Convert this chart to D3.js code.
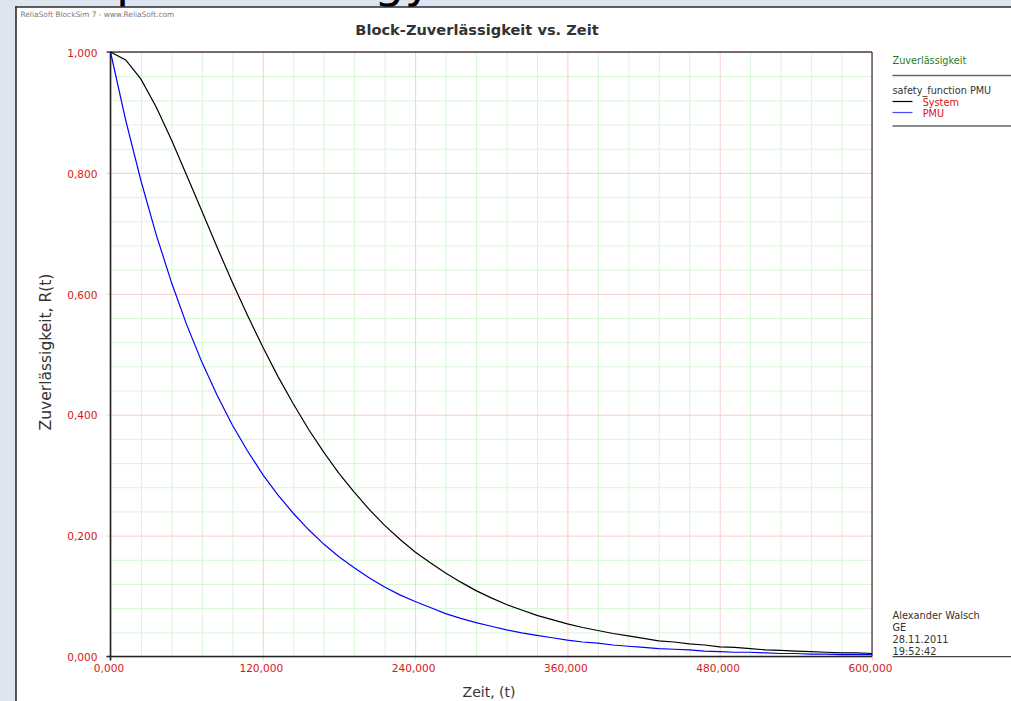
<!DOCTYPE html>
<html>
<head>
<meta charset="utf-8">
<script src="https://cdn.jsdelivr.net/npm/d3@7"></script>
<style>
  html, body { margin: 0; padding: 0; background: #dde5f0; }
  svg { display: block; font-family: "DejaVu Sans", sans-serif; }
</style>
</head>
<body>
<svg id="chart" width="1011" height="701"></svg>
<script>
// ---- data ----
const timeValues = [0,12,24,36,48,60,72,84,96,108,120,132,144,156,168,180,192,204,216,228,240,252,264,276,288,300,312,324,336,348,360,372,384,396,408,420,432,444,456,468,480,492,504,516,528,540,552,564,576,588,600];
const systemValues = [1.000,0.987,0.955,0.909,0.855,0.796,0.737,0.677,0.619,0.564,0.512,0.463,0.418,0.376,0.338,0.303,0.272,0.243,0.217,0.194,0.173,0.155,0.138,0.123,0.109,0.097,0.086,0.077,0.068,0.061,0.054,0.048,0.043,0.038,0.034,0.030,0.026,0.024,0.021,0.019,0.016,0.015,0.013,0.011,0.010,0.009,0.008,0.007,0.006,0.006,0.005];
const pmuValues = [1.000,0.887,0.787,0.698,0.619,0.549,0.487,0.432,0.383,0.340,0.301,0.267,0.237,0.210,0.186,0.165,0.147,0.130,0.115,0.102,0.091,0.081,0.071,0.063,0.056,0.050,0.044,0.039,0.035,0.031,0.027,0.024,0.022,0.019,0.017,0.015,0.013,0.012,0.011,0.009,0.008,0.007,0.007,0.006,0.005,0.005,0.004,0.004,0.003,0.003,0.003];
const xMajorTicks = [0,120,240,360,480,600];
const xMinorTicks = [24,48,72,96,144,168,192,216,264,288,312,336,384,408,432,456,504,528,552,576];
const yMajorTicks = [0,0.2,0.4,0.6,0.8,1.0];
const yMinorTicks = [0.04,0.08,0.12,0.16,0.24,0.28,0.32,0.36,0.44,0.48,0.52,0.56,0.64,0.68,0.72,0.76,0.84,0.88,0.92,0.96];
const seriesNames = ["System","PMU"];
const chartTitle = "Block-Zuverlässigkeit vs. Zeit";
const xTitle = "Zeit, (t)";
const yTitle = "Zuverlässigkeit, R(t)";
const legendTitle = "Zuverlässigkeit";
const legendGroup = "safety_function PMU";
const infoLines = ["Alexander Walsch","GE","28.11.2011","19:52:42"];
const watermark = "ReliaSoft BlockSim 7 - www.ReliaSoft.com";

// ---- drawing ----
const svg = d3.select("#chart");
const L = 110.5, R = 872, T = 52, B = 656.5;
const x = d3.scaleLinear().domain([0,600]).range([L,R]);
const y = d3.scaleLinear().domain([0,1]).range([B,T]);
const de = d3.formatLocale({decimal:",", thousands:".", grouping:[3], currency:["","€"]});
const fmt = de.format(".3f");

svg.append("rect").attr("width",1011).attr("height",701).attr("fill","#dde5f0");
// clipped big heading from the page above (only descenders visible)
svg.append("text").attr("x",116).attr("y",-3).attr("font-size",48).attr("fill","#000").text("p");
svg.append("text").attr("x",374).attr("y",-3).attr("font-size",48).attr("fill","#000").text("gy");

// panel
svg.append("rect").attr("x",16).attr("y",7).attr("width",1000).attr("height",700).attr("fill","#fff");
svg.append("line").attr("x1",16).attr("x2",16).attr("y1",6.5).attr("y2",701).attr("stroke","#2b2b2b").attr("stroke-width",1.6);
svg.append("line").attr("x1",15).attr("x2",1011).attr("y1",7).attr("y2",7).attr("stroke","#2b2b2b").attr("stroke-width",1.6);

svg.append("text").attr("x",20.5).attr("y",16.8).attr("font-size",7.4).attr("fill","#7a7a7a").text(watermark);
svg.append("text").attr("x",477).attr("y",35).attr("text-anchor","middle").attr("font-size",14.6)
  .attr("font-weight","bold").attr("fill","#333").text(chartTitle);

// minor grid
svg.append("g").attr("transform",`translate(0,${B})`)
  .call(d3.axisBottom(x).tickValues(xMinorTicks).tickSize(-(B-T)).tickFormat(""))
  .call(g=>{g.select(".domain").remove(); g.selectAll("line").attr("stroke","#d6f7d6");});
svg.append("g").attr("transform",`translate(${L},0)`)
  .call(d3.axisLeft(y).tickValues(yMinorTicks).tickSize(-(R-L)).tickFormat(""))
  .call(g=>{g.select(".domain").remove(); g.selectAll("line").attr("stroke","#d6f7d6");});

// major grid + labels
svg.append("g").attr("transform",`translate(0,${B+4})`)
  .call(d3.axisBottom(x).tickValues(xMajorTicks).tickSize(-(B-T+4)).tickPadding(4).tickFormat(fmt))
  .call(g=>{
    g.select(".domain").remove();
    g.selectAll("line").attr("stroke","#ffcaca");
    g.selectAll("text").attr("fill","#d81818").attr("font-size",10.6).attr("font-family","DejaVu Sans").attr("dx",-2);
  });
svg.append("g").attr("transform",`translate(${L-4},0)`)
  .call(d3.axisLeft(y).tickValues(yMajorTicks).tickSize(-(R-L+4)).tickPadding(9).tickFormat(fmt))
  .call(g=>{
    g.select(".domain").remove();
    g.selectAll("line").attr("stroke","#ffcaca");
    g.selectAll("text").attr("fill","#d81818").attr("font-size",10.6).attr("font-family","DejaVu Sans").attr("dy","0.4em");
  });

// frame
svg.append("line").attr("x1",L-4).attr("x2",R).attr("y1",T).attr("y2",T).attr("stroke","#444").attr("stroke-width",1.3);
svg.append("line").attr("x1",R).attr("x2",R).attr("y1",T).attr("y2",B).attr("stroke","#444").attr("stroke-width",1.3);
svg.append("line").attr("x1",L).attr("x2",L).attr("y1",T).attr("y2",B+4).attr("stroke","#222").attr("stroke-width",1.6);
svg.append("line").attr("x1",L-4).attr("x2",R).attr("y1",B).attr("y2",B).attr("stroke","#222").attr("stroke-width",1.6);

// curves
const line = d3.line().x(d=>x(d[0])).y(d=>y(d[1]));
svg.append("path").datum(timeValues.map((t,i)=>[t,pmuValues[i]]))
  .attr("d",line).attr("fill","none").attr("stroke","#0000ff").attr("stroke-width",1.2);
svg.append("path").datum(timeValues.map((t,i)=>[t,systemValues[i]]))
  .attr("d",line).attr("fill","none").attr("stroke","#000").attr("stroke-width",1.2);

// axis titles
svg.append("text").attr("x",489).attr("y",696.5).attr("text-anchor","middle").attr("font-size",14).attr("fill","#333").text(xTitle);
svg.append("text").attr("transform","translate(50.5,352) rotate(-90)").attr("text-anchor","middle").attr("font-size",15.5).attr("fill","#333").text(yTitle);

// legend
const lx = 892.5;
svg.append("text").attr("x",lx).attr("y",63.5).attr("font-size",9.7).attr("fill","#1d7a1d").text(legendTitle);
svg.append("line").attr("x1",lx).attr("x2",1011).attr("y1",75.5).attr("y2",75.5).attr("stroke","#666").attr("stroke-width",1.3);
svg.append("text").attr("x",lx).attr("y",93.5).attr("font-size",9.7).attr("fill","#333").text(legendGroup);
const legColors = ["#000","#4a4af5"];
const legY = [101.5,112.5];
seriesNames.forEach((n,i)=>{
  svg.append("line").attr("x1",lx).attr("x2",lx+20).attr("y1",legY[i]).attr("y2",legY[i]).attr("stroke",legColors[i]).attr("stroke-width",1.2);
  svg.append("text").attr("x",922.7).attr("y",legY[i]+4.2).attr("font-size",9.7).attr("fill","#e01010").text(n);
});
svg.append("line").attr("x1",lx).attr("x2",1011).attr("y1",126).attr("y2",126).attr("stroke","#666").attr("stroke-width",1.3);

// info block
infoLines.forEach((s,i)=>{
  svg.append("text").attr("x",lx).attr("y",618.8+i*12.2).attr("font-size",9.8).attr("fill","#333").text(s);
});
svg.append("line").attr("x1",lx).attr("x2",1011).attr("y1",656.7).attr("y2",656.7).attr("stroke","#444").attr("stroke-width",1.2);
</script>
</body>
</html>
